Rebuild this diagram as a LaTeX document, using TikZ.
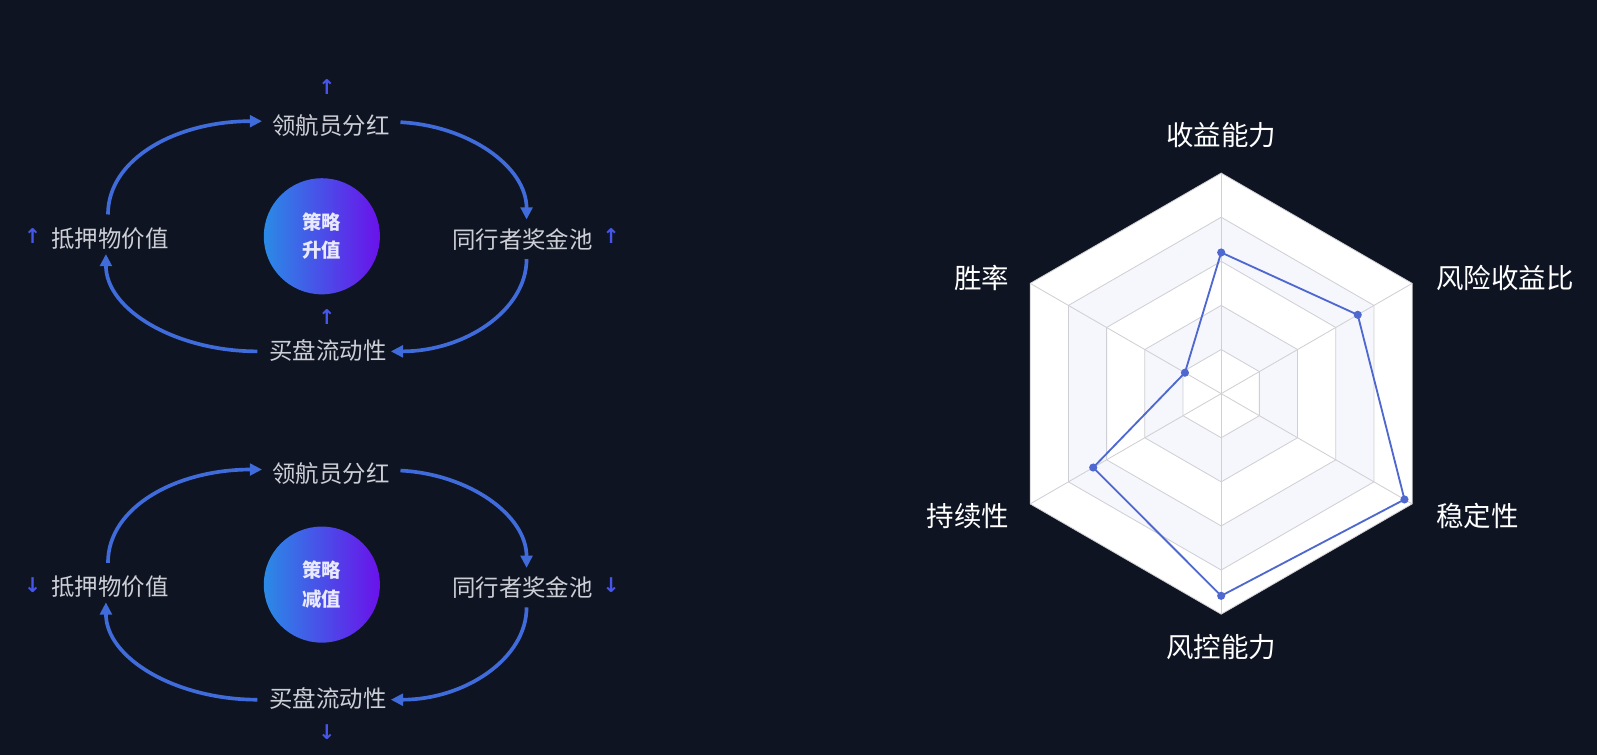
\documentclass[tikz,border=0pt]{standalone}
\usepackage{fontspec}
\setmainfont{Noto Sans CJK SC}
\newfontfamily\symfont{DejaVu Sans}
\usetikzlibrary{arrows.meta,calc}
\definecolor{bg}{HTML}{0E1422}
\definecolor{flow}{HTML}{3F6BDB}
\definecolor{mark}{HTML}{4656EA}
\definecolor{lbl}{HTML}{CDCFD6}
\definecolor{gA}{HTML}{2A8AE6}
\definecolor{gB}{HTML}{6A12EA}
\definecolor{band}{HTML}{F5F7FD}
\definecolor{gridc}{HTML}{CFCFD4}
\definecolor{serie}{HTML}{4E68CF}
\definecolor{hubtext}{HTML}{E8E8FF}
\newcommand\drawcycle[4]{%
 \begin{scope}[yshift=#2]
 \node[lab] (top#1) at (325,618) {领航员分红};
 \node[lab] (left#1) at (108,507) {抵押物价值};
 \node[lab] (right#1) at (513,506) {同行者奖金池};
 \node[lab] (bot#1) at (322,397) {买盘流动性};
 \node[core] (hub#1) at (316,509) {策略\\#3};
 \node[mk] (mt#1) at (321,#4) {\ifnum#4>600 ↑\else ↓\fi};
 \node[mk] (ml#1) at (32,509) {\ifnum#4>600 ↑\else ↓\fi};
 \node[mk] (mr#1) at (600,509) {\ifnum#4>600 ↑\else ↓\fi};
 \draw[flowline] ([xshift=-2pt,yshift=12.5pt]left#1.north) to[out=90,in=180,out looseness=0.8,in looseness=1.2] ([xshift=-10pt,yshift=4pt]top#1.west);
 \draw[flowline] ([xshift=10.5pt,yshift=3pt]top#1.east) to[out=-3,in=90,out looseness=1.1,in looseness=0.85] ([xshift=4pt,yshift=8.5pt]right#1.north);
 \draw[flowline] ([xshift=4pt,yshift=-8.5pt]right#1.south) to[out=-90,in=0,out looseness=0.8,in looseness=1.15] ([xshift=4pt,yshift=-1pt]bot#1.east);
 \draw[flowline] ([xshift=-11.5pt,yshift=-1pt]bot#1.west) to[out=180,in=-90,out looseness=1.15,in looseness=0.8] ([xshift=-4pt,yshift=-4.5pt]left#1.south);
 \end{scope}}
\begin{document}
\begin{tikzpicture}[x=1pt,y=1pt,
  lab/.style={text=lbl,font=\fontsize{23}{23}\selectfont,inner sep=0pt},
  mk/.style={text=mark,font=\symfont\bfseries\fontsize{20}{20}\selectfont,inner sep=0pt},
  flowline/.style={draw=flow,line width=3.6pt,-{Triangle[length=12pt,width=11.5pt]}},
  core/.style={circle,minimum size=114pt,left color=gA,right color=gB,text=hubtext,font=\bfseries\fontsize{19}{28}\selectfont,align=center,inner sep=0pt},
  axlabel/.style={text=white,font=\fontsize{27}{27}\selectfont,inner sep=0pt},
  gridline/.style={draw=gridc,line width=0.8pt},
]
\fill[bg] (0,0) rectangle (1568,741);
\useasboundingbox (0,0) rectangle (1568,741);

% upper cycle
\drawcycle{A}{0pt}{升值}{656}
\node[mk] (mbA) at (321,430) {↑};
% lower cycle
\drawcycle{B}{-342pt}{减值}{311}
\node[mk] (mbB) at (321,22) {↓};

% radar
\coordinate (C) at (1199,354.5);
\def\R{216.5}
\foreach \f/\c in {1/white,0.8/band,0.6/white,0.4/band,0.2/white}{
  \pgfmathsetmacro\r{\f*\R}
  \path[fill=\c,gridline] ($(C)+(90:\r)$) \foreach \a in {30,-30,-90,210,150}{ -- ($(C)+(\a:\r)$) } -- cycle;
}
\foreach \a in {90,30,-30,-90,210,150}{
  \draw[gridline] (C) -- ($(C)+(\a:\R)$);
}
\coordinate (d1) at ($(C)+(90:138.6)$);
\coordinate (d2) at ($(C)+(30:154.8)$);
\coordinate (d3) at ($(C)+(-30:207.8)$);
\coordinate (d4) at ($(C)+(-90:198.5)$);
\coordinate (d5) at ($(C)+(210:145.1)$);
\coordinate (d6) at ($(C)+(150:41.1)$);
\draw[serie,line width=1.8pt,line join=round] (d1) -- (d2) -- (d3) -- (d4) -- (d5) -- (d6) -- cycle;
\foreach \i in {1,...,6}{\fill[serie] (d\i) circle (4pt);}

\node[axlabel] (l1) at (1199,608) {收益能力};
\node[axlabel,anchor=west] (l2) at (1410,468) {风险收益比};
\node[axlabel,anchor=west] (l3) at (1410,234) {稳定性};
\node[axlabel] (l4) at (1199,106) {风控能力};
\node[axlabel,anchor=east] (l5) at (991,234) {持续性};
\node[axlabel,anchor=east] (l6) at (991,468) {胜率};
\end{tikzpicture}
\end{document}
